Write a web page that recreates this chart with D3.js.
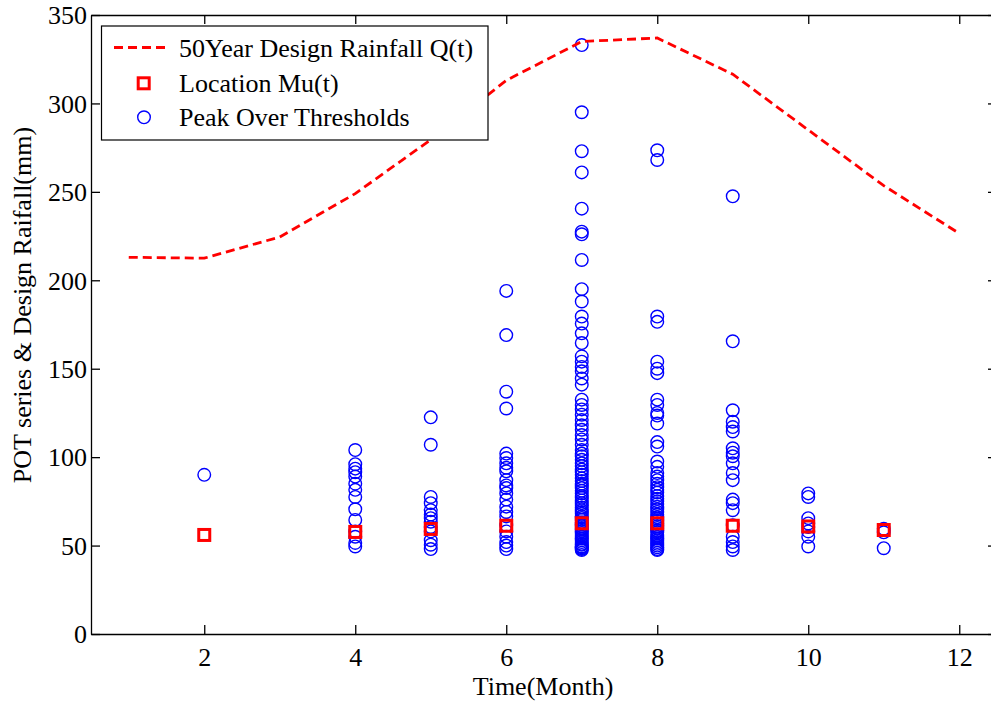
<!DOCTYPE html>
<html lang="en">
<head>
<meta charset="utf-8">
<title>POT series and Design Rainfall</title>
<script src="https://d3js.org/d3.v7.min.js"></script>
<style>
  body { margin: 0; background: #fff; }
  svg { display: block; }
  text { font-family: "Liberation Serif", "Times New Roman", serif; fill: #000; }
  .axis path, .axis line { stroke: #000; stroke-width: 1.3; }
</style>
</head>
<body>
<svg width="991" height="706"></svg>
<script>
// 50 year design rainfall per month
const months = [1, 2, 3, 4, 5, 6, 7, 8, 9, 10, 11, 12];
const designRainfall = [213, 212.5, 224.5, 249, 279.5, 313, 335, 337, 316.5, 285, 253.5, 226.5];

// location parameter Mu(t)
const muMonths = [2, 4, 5, 6, 7, 8, 9, 10, 11];
const muValues = [56, 57.7, 59.4, 61.2, 62.6, 62.6, 61.2, 60.8, 58.8];

// peaks over threshold, one list per month
const potM2 = [90];
const potM4 = [104, 96, 93.5, 91.5, 89, 85, 81.5, 77.5, 70.5, 64.5, 58, 55, 51.5, 49.5];
const potM5 = [122.5, 107, 77.5, 74, 70, 67.5, 65.5, 63.5, 60.5, 58, 53, 50.5, 48];
const potM6 = [194, 169, 137, 127.5, 102, 99.5, 96.5, 94, 92, 87, 84, 82.5, 79.5, 76, 72, 69, 66.5,
               61.5, 58, 55, 52, 50, 48];
const potM7 = [333, 295, 273, 261, 240.5, 227.5, 226, 211.5, 195, 188, 179.5, 175.5, 170, 164.5,
               157, 154, 151, 148.5, 144.5, 141, 132.5, 129.5, 127, 124, 121, 118, 115.5, 112.5,
               110, 107, 104, 102, 100.5, 98.5, 96.5, 95, 93, 91.5, 90, 88, 86.5, 85, 84, 82.5,
               81, 79.5, 78, 77, 75.5, 74, 73, 71.5, 70, 69, 68, 66.5, 65.5, 64.5, 63, 62, 61,
               60, 59, 58, 57, 56, 55, 54, 53, 52, 51, 50.5, 49.5, 49, 48.5, 48, 47.5];
const potM8 = [273.5, 268, 179.5, 176.5, 154, 150, 147.5, 132.5, 129.5, 125, 123.5, 119, 108.5,
               106, 97.5, 94.5, 91, 89, 87, 85, 83, 81.5, 80, 78, 76.5, 75, 73.5, 72, 70.5, 69,
               67.5, 66, 65, 64, 62.5, 61, 60, 58.5, 57.5, 56, 55, 54, 53, 52, 51, 50, 49, 48, 47.5];
const potM9 = [247.5, 165.5, 126.5, 120, 117, 114.5, 105, 102.5, 100.5, 96.5, 91, 87, 76, 74,
               70, 61.5, 55, 52, 49.5, 47.5];
const potM10 = [79.5, 77.5, 65.5, 62.5, 60.5, 58, 55, 49.5];
const potM11 = [59.5, 57.5, 48.5];

const xTicks = [2, 4, 6, 8, 10, 12];
const yTicks = [0, 50, 100, 150, 200, 250, 300, 350];

// flat table of points for the scatter
var pot = [];
[[2, potM2], [4, potM4], [5, potM5], [6, potM6], [7, potM7], [8, potM8],
 [9, potM9], [10, potM10], [11, potM11]].forEach(function(p) {
  p[1].forEach(function(v) { pot.push({m: p[0], v: v}); });
});

// plot box (right edge falls just outside the picture)
var boxL = 91, boxR = 997, boxT = 15, boxB = 634;

var x = d3.scaleLinear().domain([0.5, 12.5]).range([boxL, boxR]);
var y = d3.scaleLinear().domain([0, 350]).range([boxB, boxT]);

var svg = d3.select("svg");

//Axes, MATLAB style: ticks point inward on all four sides
svg.append("g").attr("class", "axis")
  .attr("transform", "translate(0," + boxB + ")")
  .call(d3.axisBottom(x).tickValues(xTicks).tickSizeInner(-9).tickSizeOuter(0).tickPadding(14))
  .selectAll("text").style("font-size", "26px");

svg.append("g").attr("class", "axis")
  .attr("transform", "translate(0," + boxT + ")")
  .call(d3.axisTop(x).tickValues(xTicks).tickSizeInner(-9).tickSizeOuter(0).tickFormat(""));

svg.append("g").attr("class", "axis")
  .attr("transform", "translate(" + boxL + ",0)")
  .call(d3.axisLeft(y).tickValues(yTicks).tickSizeInner(-9).tickSizeOuter(0).tickPadding(4))
  .selectAll("text").style("font-size", "26px").attr("dy", "0.34em");

svg.append("g").attr("class", "axis")
  .attr("transform", "translate(" + boxR + ",0)")
  .call(d3.axisRight(y).tickValues(yTicks).tickSizeInner(-9).tickSizeOuter(0).tickFormat(""));

svg.selectAll(".axis .domain").attr("stroke-width", 1.5);

//POT circles
svg.append("g").selectAll("circle")
  .data(pot)
  .enter()
  .append("circle")
    .attr("cx", function(d) { return x(d.m); })
    .attr("cy", function(d) { return y(d.v); })
    .attr("r", 6.3)
    .attr("fill", "none")
    .attr("stroke", "#0000ff")
    .attr("stroke-width", 1.4);

//design rainfall line
var line = d3.line()
  .x(function(d, i) { return x(months[i]); })
  .y(function(d) { return y(d); });

svg.append("path")
  .datum(designRainfall)
  .attr("d", line)
  .attr("fill", "none")
  .attr("stroke", "#ff0000")
  .attr("stroke-width", 2.8)
  .attr("stroke-dasharray", "9,5");

//Mu squares
svg.append("g").selectAll("rect")
  .data(muValues)
  .enter()
  .append("rect")
    .attr("x", function(d, i) { return x(muMonths[i]) - 5.5; })
    .attr("y", function(d) { return y(d) - 5.5; })
    .attr("width", 11)
    .attr("height", 11)
    .attr("fill", "none")
    .attr("stroke", "#ff0000")
    .attr("stroke-width", 3);

//axis titles
svg.append("text")
  .attr("x", 543).attr("y", 695)
  .attr("text-anchor", "middle")
  .style("font-size", "26px")
  .text("Time(Month)");

svg.append("text")
  .attr("transform", "translate(31,305) rotate(-90)")
  .attr("text-anchor", "middle")
  .style("font-size", "26px")
  .text("POT series & Design Raifall(mm)");

//legend
var lg = svg.append("g");
lg.append("rect")
  .attr("x", 101.5).attr("y", 26)
  .attr("width", 386.5).attr("height", 114)
  .attr("fill", "#fff").attr("stroke", "#000").attr("stroke-width", 1.2);

lg.append("line")
  .attr("x1", 114).attr("x2", 168).attr("y1", 47.5).attr("y2", 47.5)
  .attr("stroke", "#ff0000").attr("stroke-width", 2.8).attr("stroke-dasharray", "9,5");

lg.append("rect")
  .attr("x", 138.2).attr("y", 77.8).attr("width", 11).attr("height", 11)
  .attr("fill", "none").attr("stroke", "#ff0000").attr("stroke-width", 3);

lg.append("circle")
  .attr("cx", 144).attr("cy", 117.3).attr("r", 6.3)
  .attr("fill", "none").attr("stroke", "#0000ff").attr("stroke-width", 1.4);

var labels = ["50Year Design Rainfall Q(t)", "Location Mu(t)", "Peak Over Thresholds"];
var rows = [47.5, 83.3, 117.3];
lg.selectAll("text.lab")
  .data(labels)
  .enter()
  .append("text")
    .attr("class", "lab")
    .attr("x", 179)
    .attr("y", function(d, i) { return rows[i] + 9; })
    .style("font-size", "26px")
    .text(function(d) { return d; });
</script>
</body>
</html>
